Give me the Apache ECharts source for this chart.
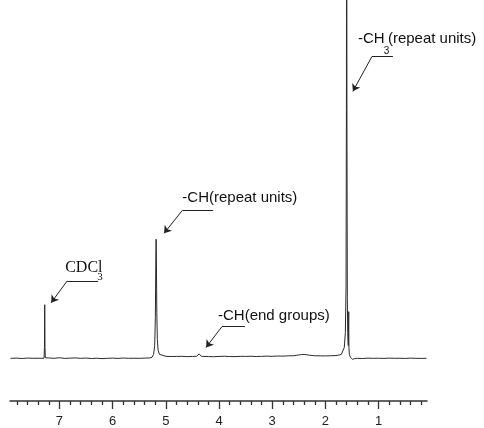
<!DOCTYPE html>
<html><head><meta charset="utf-8">
<script src="https://cdn.jsdelivr.net/npm/echarts@6/dist/echarts.min.js"></script>
<style>html,body{margin:0;padding:0;background:#fff}#c{width:484px;height:428px}</style>
</head><body><div id="c"></div>
<script>
// chemical shift (ppm) and signal intensity
const ppm = [7.92,7.8,7.7,7.6,7.5,7.4,7.33,7.29,7.282,7.277,7.272,7.265,7.2,7.1,7.0,6.9,6.8,6.7,6.6,6.5,6.4,6.3,6.2,6.1,6.0,5.9,5.8,5.7,5.6,5.5,5.4,5.3,
  5.26,5.23,5.21,5.197,5.188,5.183,5.178,5.17,5.16,5.145,5.12,5.09,5.0,4.9,4.8,4.7,4.6,4.5,4.42,4.39,4.375,4.36,4.33,4.2,4.1,4.0,3.9,3.8,3.7,3.6,3.5,3.4,3.3,3.2,3.1,3.0,
  2.9,2.8,2.7,2.6,2.55,2.5,2.45,2.4,2.35,2.3,2.2,2.1,2.0,1.9,1.8,1.74,1.7,1.67,1.645,1.625,1.612,1.605,1.6,1.595,1.588,1.58,1.57,1.565,1.562,1.558,1.55,1.53,1.51,1.49,1.45,
  1.4,1.3,1.2,1.1,1.0,0.9,0.8,0.7,0.6,0.5,0.4,0.3,0.2,0.1];
const intensity = [-1,-0.8,-1.2,-0.7,-1,-0.9,-1,-0.8,10,53,10,-0.5,-0.6,-1,-0.4,-1.1,-0.8,-0.6,-1,-0.7,-1.2,-0.9,-1.3,-1,-0.8,-1.1,-0.7,-1,-0.9,-1,-0.8,-0.6,
  0,3,12,40,100,119,100,45,18,7,3,1.5,1,0.8,0.9,1,0.7,0.9,1,2.5,3.5,2,1,0.8,0.6,0.9,1.1,0.8,0.7,1,0.9,1.1,0.8,1,1.2,1,
  1.3,1.2,1.5,1.6,2,2.4,2.8,2.9,2.6,2.1,1.6,1.5,1.4,1.6,1.8,2.3,3,5,10,25,70,250,520,250,60,25,12,10,46,10,3,0,-1.5,-2,-1.3,
  -1,-1.2,-0.8,-1,-0.9,-1.1,-0.8,-1,-0.9,-1.1,-0.8,-1,-1.1,-1];
const majorTicks = [1,2,3,4,5,6,7];
const tickLabels = ['1','2','3','4','5','6','7'];
const minorTicks = [0.2,0.4,0.6,0.8,1.2,1.4,1.6,1.8,2.2,2.4,2.6,2.8,3.2,3.4,3.6,3.8,4.2,4.4,4.6,4.8,
  5.2,5.4,5.6,5.8,6.2,6.4,6.6,6.8,7.2,7.4,7.6,7.8];
// peak annotations (ppm, intensity): arrow tip, elbow, end of horizontal leader
const annTip = [[7.156,55],[5.034,125],[4.244,10],[1.483,268]];
const annElbow = [[6.855,77],[4.69,148],[3.944,31],[1.126,303]];
const annEnd = [[6.273,77],[4.11,148],[3.512,31],[0.731,303]];
// annotation text pieces: text, anchor (left-middle), style
const annTexts = ['CDCl', '3', '-CH(repeat units)', '-CH(end groups)', '-CH', '3', '(repeat units)'];
const annTextAt = [[6.893,90.5],[6.29,81],[4.69,161],[4.019,41.5],[1.389,321],[0.905,308],[0.825,321]];
const annTextStyle = ['serif','serifSub','sans','sans','sans','sansSub','sans'];

const X_MIN = 0.09, X_MAX = 7.93;
const spectrum = ppm.map((p, i) => [p, intensity[i]]);

const styles = {
  serif: {fontFamily: 'Liberation Serif', fontSize: 16},
  serifSub: {fontFamily: 'Liberation Serif', fontSize: 11},
  sans: {fontFamily: 'Liberation Sans', fontSize: 15},
  sansSub: {fontFamily: 'Liberation Sans', fontSize: 10}
};

const lineData = [];
annTip.forEach((t, i) => {
  lineData.push([{coord: annElbow[i], symbol: 'none'}, {coord: t, symbol: 'arrow'}]);
  lineData.push([{coord: annElbow[i], symbol: 'none'}, {coord: annEnd[i], symbol: 'none'}]);
});
const pointData = annTextAt.map((c, i) => ({
  coord: c,
  label: Object.assign({formatter: annTexts[i]}, styles[annTextStyle[i]])
}));

const chart = echarts.init(document.getElementById('c'), null, {renderer: 'canvas'});
chart.setOption({
  animation: false,
  backgroundColor: '#fff',
  grid: {left: 10, right: 57, top: 0, bottom: 24, containLabel: false},
  xAxis: [{
    type: 'value', min: X_MIN, max: X_MAX, inverse: true, position: 'bottom',
    axisLine: {show: true, onZero: false, lineStyle: {color: '#333', width: 1.5}},
    axisTick: {show: true, length: 8, customValues: majorTicks, lineStyle: {color: '#333', width: 1.3}},
    axisLabel: {show: true, customValues: majorTicks, margin: 14, fontSize: 13, color: '#222',
      fontFamily: 'Liberation Sans', formatter: v => tickLabels[majorTicks.indexOf(Math.round(v))]},
    splitLine: {show: false}
  }, {
    type: 'value', min: X_MIN, max: X_MAX, inverse: true, position: 'bottom',
    axisLine: {show: false, onZero: false},
    axisTick: {show: true, length: 4, customValues: minorTicks, lineStyle: {color: '#333', width: 1.3}},
    axisLabel: {show: false}, splitLine: {show: false}
  }],
  yAxis: {type: 'value', min: -44, max: 360, show: false},
  series: [{
    type: 'line', data: spectrum, xAxisIndex: 0, showSymbol: false, symbol: 'none', smooth: false,
    sampling: false, clip: true,
    lineStyle: {color: '#2a2a2a', width: 1}
  }, {
    type: 'line', data: [], xAxisIndex: 0, clip: false, silent: true,
    markLine: {
      silent: true, symbol: ['none', 'arrow'], symbolSize: 7, precision: 4,
      label: {show: false},
      lineStyle: {color: '#222', width: 1, type: 'solid'},
      emphasis: {disabled: true},
      data: lineData
    },
    markPoint: {
      silent: true, symbol: 'circle', symbolSize: 0,
      itemStyle: {color: 'rgba(0,0,0,0)'},
      label: {show: true, position: [0, 0], align: 'left', verticalAlign: 'middle', color: '#111'},
      emphasis: {disabled: true},
      data: pointData
    }
  }]
});
</script></body></html>
